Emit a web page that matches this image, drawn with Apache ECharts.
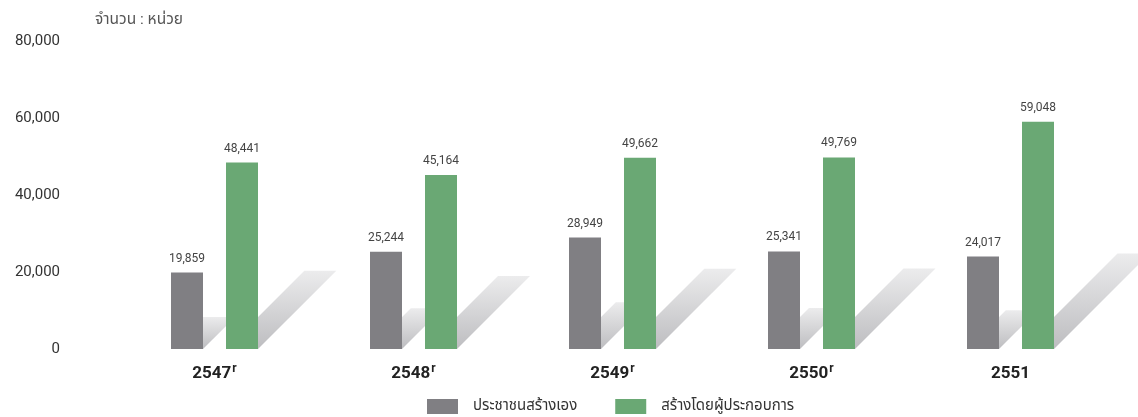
<!DOCTYPE html>
<html>
<head>
<meta charset="utf-8">
<script src="https://cdn.jsdelivr.net/npm/echarts@6/dist/echarts.min.js"></script>
<style>html,body{margin:0;padding:0;background:#fff;}#c{width:1138px;height:417px;}</style>
</head>
<body>
<div id="c"></div>
<script>
var categories = ['2547', '2548', '2549', '2550', '2551'];
var revised = [true, true, true, true, false];
var seriesNames = ['ประชาชนสร้างเอง', 'สร้างโดยผู้ประกอบการ'];
var selfBuilt = [19859, 25244, 28949, 25341, 24017];
var developerBuilt = [48441, 45164, 49662, 49769, 59048];
var yTicks = [0, 20000, 40000, 60000, 80000];
var unitLabel = 'จำนวน : หน่วย';

var FONT = 'Roboto, "Noto Sans", "Noto Sans Thai", sans-serif';
var BAR_W = 32, GAP = 23, SHADOW_RATIO = 0.42;
var GRAY = '#807f83', GREEN = '#6aa874';

function fmt(v){ return v.toLocaleString('en-US'); }

function shadowRender(seriesIdx){
  return function(params, api){
    var idx = api.value(0);
    var val = api.value(1);
    var base = api.coord([idx, 0]);
    var topPt = api.coord([idx, val * SHADOW_RATIO]);
    var h = base[1] - topPt[1];
    var groupW = BAR_W * 2 + GAP;
    var x0 = base[0] - groupW / 2 + seriesIdx * (BAR_W + GAP);
    var yb = base[1];
    return {
      type: 'polygon',
      shape: { points: [[x0, yb], [x0 + BAR_W, yb], [x0 + BAR_W + h, yb - h], [x0 + h, yb - h]] },
      style: {
        fill: new echarts.graphic.LinearGradient(0, 0, 0, 1, [
          { offset: 0, color: '#ececed' },
          { offset: 1, color: '#bdbdc0' }
        ])
      },
      z2: 0
    };
  };
}

var chart = echarts.init(document.getElementById('c'));
chart.setOption({
  animation: false,
  title: {
    text: unitLabel, left: 90, top: 7,
    textStyle: { fontFamily: FONT, fontSize: 15.5, fontWeight: 'normal', color: '#555' }
  },
  grid: { left: 115, right: 28, top: 41, bottom: 68 },
  legend: {
    top: 394, left: 422, itemWidth: 31, itemHeight: 15, itemGap: 38,
    icon: 'rect',
    data: seriesNames,
    textStyle: { fontFamily: FONT, fontSize: 15, color: '#333', padding: [0, 0, 0, 10] }
  },
  xAxis: {
    type: 'category', data: categories,
    axisLine: { show: false }, axisTick: { show: false },
    axisLabel: {
      margin: 14,
      formatter: function(v, i){ return revised[i] ? '{y|' + v + '}{s|r}' : '{y|' + v + '}'; },
      rich: {
        y: { fontFamily: FONT, fontSize: 17, fontWeight: 'bold', color: '#222', lineHeight: 22 },
        s: { fontFamily: FONT, fontSize: 12, fontWeight: 'bold', color: '#222', verticalAlign: 'top', lineHeight: 12, padding: [0, 0, 0, 1] }
      }
    }
  },
  yAxis: {
    type: 'value', min: yTicks[0], max: yTicks[yTicks.length - 1], interval: yTicks[1] - yTicks[0],
    splitLine: { show: false }, axisLine: { show: false }, axisTick: { show: false },
    axisLabel: { margin: 55, fontFamily: FONT, fontSize: 15, color: '#333', formatter: fmt }
  },
  series: [
    {
      type: 'custom', renderItem: shadowRender(0), silent: true, z: 1,
      data: selfBuilt.map(function(v, i){ return [i, v]; }),
      encode: { x: 0, y: 1 }, tooltip: { show: false }
    },
    {
      type: 'custom', renderItem: shadowRender(1), silent: true, z: 1,
      data: developerBuilt.map(function(v, i){ return [i, v]; }),
      encode: { x: 0, y: 1 }, tooltip: { show: false }
    },
    {
      name: seriesNames[0], type: 'bar', data: selfBuilt, barWidth: BAR_W, barGap: (GAP / BAR_W * 100) + '%', z: 3,
      itemStyle: { color: GRAY },
      label: { show: true, position: 'top', distance: 8, fontFamily: FONT, fontSize: 12, color: '#444', formatter: function(p){ return fmt(p.value); } }
    },
    {
      name: seriesNames[1], type: 'bar', data: developerBuilt, barWidth: BAR_W, z: 3,
      itemStyle: { color: GREEN },
      label: { show: true, position: 'top', distance: 8, fontFamily: FONT, fontSize: 12, color: '#444', formatter: function(p){ return fmt(p.value); } }
    }
  ]
});
</script>
</body>
</html>
